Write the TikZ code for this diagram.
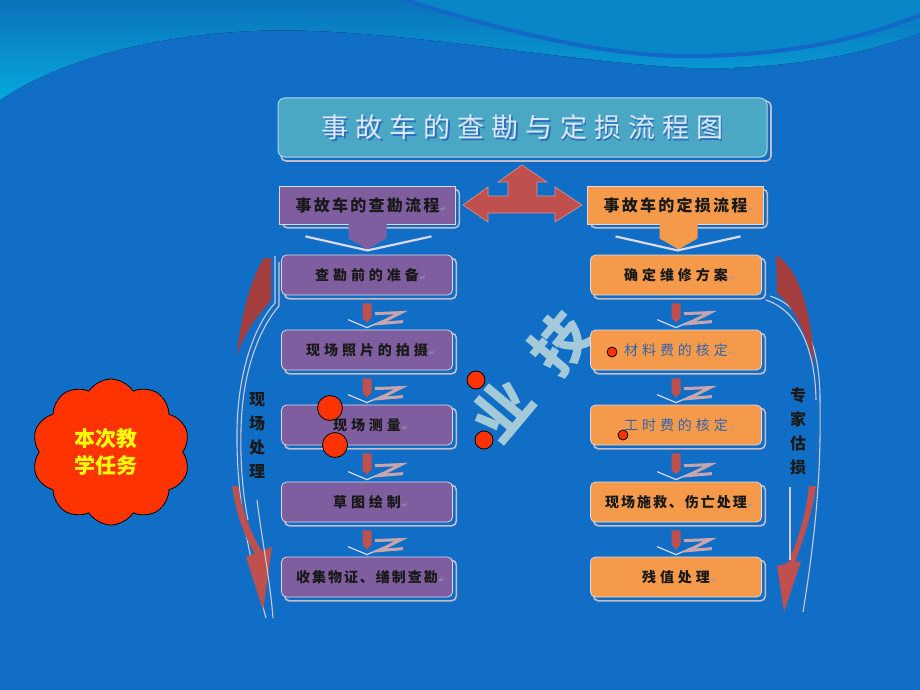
\documentclass[tikz,border=0pt]{standalone}
\usepackage{fontspec}
\setmainfont{Noto Sans CJK SC}
\newfontfamily\cjk{Noto Sans CJK SC}
\newfontfamily\cjkls{Noto Sans CJK SC}[LetterSpace=28]
\newfontfamily\cjklsn{Noto Sans CJK SC}[LetterSpace=14]
\newfontfamily\titlef{Noto Sans CJK SC}[LetterSpace=26]
\newfontfamily\djv{DejaVu Sans}
\usetikzlibrary{shapes.symbols}
\definecolor{bgblue}{HTML}{106EC6}
\definecolor{waveA}{HTML}{0B72BC}
\definecolor{waveB}{HTML}{06A8DC}
\definecolor{ribfill}{HTML}{0886C8}
\definecolor{ribline}{HTML}{1268C6}
\definecolor{titlefill}{HTML}{4AA8C4}
\definecolor{titleedge}{HTML}{A8D8E8}
\definecolor{titletext}{HTML}{DCE8F6}
\definecolor{titleshade}{HTML}{2E6EC0}
\definecolor{purplec}{HTML}{7E5E9E}
\definecolor{orangec}{HTML}{F59A4A}
\definecolor{edgec}{HTML}{DCD8E8}
\definecolor{shadowc}{HTML}{C8BCC4}
\definecolor{arrowred}{HTML}{C0504D}
\definecolor{crescred}{HTML}{A43E3E}
\definecolor{zpink}{HTML}{C8A4AC}
\definecolor{dotred}{HTML}{FF3300}
\definecolor{yellowc}{HTML}{FFFF00}
\definecolor{wmark}{HTML}{A4CADA}
\definecolor{bluetext}{HTML}{2E64B0}
\definecolor{retc}{HTML}{9A9AB0}
\definecolor{lightl}{HTML}{D0C8D4}
\pgfdeclarelayer{back}
\pgfdeclarelayer{bg}
\pgfsetlayers{back,bg,main}
\newcommand\retm{\rlap{\hspace{1pt}{\djv\fontsize{7}{7}\selectfont\color{retc}↵}}}
\tikzset{
  flowbox/.style={draw=edgec, line width=0.8pt, rounded corners=5pt, minimum width=171pt, minimum height=40pt, inner sep=0pt},
  pbox/.style={flowbox, fill=purplec},
  obox/.style={flowbox, fill=orangec},
  hbox/.style={draw=edgec, line width=0.8pt, minimum width=176pt, minimum height=38pt, inner sep=0pt},
  shadowln/.style={draw=shadowc, line width=1.6pt, rounded corners=5pt},
  btxt/.style={font=\cjkls\bfseries\fontsize{14}{14}\selectfont, text=black!90},
  bltxt/.style={font=\cjkls\fontsize{14}{14}\selectfont, text=bluetext},
  htxt/.style={font=\cjklsn\bfseries\fontsize{16}{16}\selectfont, text=black!90},
  vtxt/.style={font=\cjk\bfseries\fontsize{16}{24}\selectfont, text=black!90, align=center},
  chev/.style={draw=edgec, line width=1.2pt},
  chevw/.style={draw=edgec, line width=2.2pt},
  zline/.style={draw=zpink, line width=3pt},
  lightline/.style={draw=lightl, line width=1.1pt},
  reddot/.style={circle, fill=dotred, draw=black, line width=0.8pt, inner sep=0pt},
  wm/.style={font=\cjk\bfseries\fontsize{58}{58}\selectfont, text=wmark, rotate=50}
}
\newcommand\flowarrow[2]{%
  \fill[arrowred] ([xshift=-4.5pt,yshift=-8pt]#1.south) -- ([xshift=4.5pt,yshift=-8pt]#1.south)
     -- ([xshift=4.5pt,yshift=12pt]#2.north) -- ([yshift=7pt]#2.north) -- ([xshift=-4.5pt,yshift=12pt]#2.north) -- cycle;
  \draw[chev] ([xshift=-19pt,yshift=10pt]#2.north) -- ([yshift=2pt]#2.north) -- ([xshift=16pt,yshift=9pt]#2.north);
  \draw[zline] ([xshift=8pt,yshift=16pt]#2.north) -- ([xshift=34pt,yshift=17pt]#2.north)
     -- ([xshift=12pt,yshift=6pt]#2.north) -- ([xshift=36pt,yshift=8pt]#2.north);
}
\begin{document}
\begin{tikzpicture}[x=1pt,y=-1pt]
\useasboundingbox (0,0) rectangle (920,690);
\begin{pgfonlayer}{back}
  \fill[bgblue] (0,0) rectangle (920,690);
  \fill[top color=waveA, bottom color=waveB] (0,0) -- (920,0) -- (920,33)
     .. controls (850,60) and (760,70) .. (692,68)
     .. controls (560,62) and (380,25) .. (252,31)
     .. controls (150,36) and (60,60) .. (0,100) -- cycle;
  \fill[ribfill] (405,0) .. controls (500,30) and (600,55) .. (680,56)
     .. controls (780,57) and (860,40) .. (920,15) -- (920,0) -- cycle;
  \draw[ribline, line width=4pt] (405,0) .. controls (500,30) and (600,55) .. (680,56)
     .. controls (780,57) and (860,40) .. (920,15);
  % watermark
  \node[wm] (w2) at (502,410) {业};
  \node[wm] (w3) at (560,343) {技};
\end{pgfonlayer}

% title
\node[draw=titleedge, line width=1pt, fill=titlefill, rounded corners=7pt, minimum width=489pt, minimum height=59pt, inner sep=0pt] (t) at (522.5,127.5) {};
\node[font=\titlef\fontsize{27}{27}\selectfont, text=titleshade] at ([xshift=1.3pt,yshift=-1.3pt]t.center) {事故车的查勘与定损流程图};
\node[font=\titlef\fontsize{27}{27}\selectfont, text=titletext] (tt) at (t.center) {事故车的查勘与定损流程图\retm};

% headers
\node[hbox, fill=purplec] (h1) at (367.5,205) {};
\node[htxt] at (h1.center) {事故车的查勘流程\retm};
\node[hbox, fill=orangec] (h2) at (675.5,205) {};
\node[htxt] at (h2.center) {事故车的定损流程\retm};

\fill[purplec] ([xshift=-19pt,yshift=1pt]h1.south) -- ([xshift=19pt,yshift=1pt]h1.south) -- ([xshift=19pt,yshift=-14pt]h1.south)
   -- ([yshift=-25pt]h1.south) -- ([xshift=-19pt,yshift=-14pt]h1.south) -- cycle;
\draw[chevw] ([xshift=-62pt,yshift=-12pt]h1.south) -- ([yshift=-26pt]h1.south) -- ([xshift=64pt,yshift=-12pt]h1.south);
\fill[orangec] ([xshift=-16pt,yshift=1pt]h2.south) -- ([xshift=22pt,yshift=1pt]h2.south) -- ([xshift=22pt,yshift=-14pt]h2.south)
   -- ([xshift=3pt,yshift=-25pt]h2.south) -- ([xshift=-16pt,yshift=-14pt]h2.south) -- cycle;
\draw[chevw] ([xshift=-60pt,yshift=-12pt]h2.south) -- ([xshift=2pt,yshift=-26pt]h2.south) -- ([xshift=65pt,yshift=-12pt]h2.south);

% three-way arrow
\fill[arrowred, draw=arrowred!60!white, line width=0.6pt] (522,165) -- (547,182) -- (537,182) -- (537,196) -- (555,196) -- (555,187)
   -- (582,205) -- (555,222) -- (555,213) -- (488,213) -- (488,222) -- (463,205) -- (488,187) -- (488,196)
   -- (508,196) -- (508,182) -- (498,182) -- cycle;

% left column
\node[pbox] (l1) at (367,275) {};
\node[btxt] at (l1.center) {查勘前的准备\retm};
\node[pbox] (l2) at (367,350) {};
\node[btxt] at (l2.center) {现场照片的拍摄\retm};
\node[pbox] (l3) at (367,425) {};
\node[btxt] at (l3.center) {现场测量\retm};
\node[pbox] (l4) at (367,502) {};
\node[btxt] at (l4.center) {草图绘制\retm};
\node[pbox] (l5) at (367,577) {};
\node[btxt, font=\cjklsn\bfseries\fontsize{14}{14}\selectfont] at (l5.center) {收集物证、缮制查勘\retm};

% right column
\node[obox] (r1) at (676,275) {};
\node[btxt] at (r1.center) {确定维修方案\retm};
\node[obox] (r2) at (676,350) {};
\node[bltxt] at (r2.center) {材料费的核定\retm};
\node[obox] (r3) at (676,425) {};
\node[bltxt] at (r3.center) {工时费的核定\retm};
\node[obox] (r4) at (676,502) {};
\node[btxt, font=\cjklsn\bfseries\fontsize{14}{14}\selectfont] at (r4.center) {现场施救、伤亡处理\retm};
\node[obox] (r5) at (676,577) {};
\node[btxt] at (r5.center) {残值处理\retm};

\begin{pgfonlayer}{bg}
  \foreach \n in {t,h1,h2,l1,l2,l3,l4,l5,r1,r2,r3,r4,r5}{
    \draw[shadowln] ([xshift=3.5pt,yshift=-3.5pt]\n.south west) rectangle ([xshift=3.5pt,yshift=-3.5pt]\n.north east);
  }
\end{pgfonlayer}

\flowarrow{l1}{l2}
\flowarrow{l2}{l3}
\flowarrow{l3}{l4}
\flowarrow{l4}{l5}
\flowarrow{r1}{r2}
\flowarrow{r2}{r3}
\flowarrow{r3}{r4}
\flowarrow{r4}{r5}

% left curved arrows
\draw[lightline] (275,256) -- (275,303) .. controls (255,325) and (238,370) .. (237,430) .. controls (236,500) and (250,560) .. (266,618);
\draw[lightline] (279,262) -- (279,306) .. controls (259,329) and (242,372) .. (241,430) .. controls (240,470) and (244,500) .. (248,520);
\fill[crescred] (264,258) .. controls (250,280) and (240,320) .. (237,356) .. controls (245,328) and (262,312) .. (271,300) -- (271,258) -- cycle;
\fill[arrowred] (232,486) .. controls (236,515) and (246,540) .. (255,553.5) -- (246,557) -- (263,610) -- (272,547) -- (261.6,551)
   .. controls (252,535) and (242,512) .. (238,486) -- cycle;
\draw[lightline] (257,500) .. controls (262,540) and (270,580) .. (273,618);
\node[vtxt] (vl) at (257,436) {现\\场\\处\\理};

% right curved arrows
\draw[lightline] (770,296) .. controls (800,305) and (820,340) .. (820,400) .. controls (821,460) and (818,520) .. (803,612);
\draw[lightline] (766,300) .. controls (796,310) and (815,345) .. (816,400);
\fill[crescred] (776,255) .. controls (798,268) and (812,310) .. (814,366) .. controls (806,330) and (792,305) .. (777,293) -- cycle;
\fill[arrowred] (809,486) .. controls (806,515) and (798,540) .. (788,563) -- (777,566) -- (784,612) -- (801,561) -- (795,562)
   .. controls (803,540) and (812,515) .. (816,486) -- cycle;
\draw[lightline] (790,487) -- (790,560);
\node[vtxt] (vr) at (798,431) {专\\家\\估\\损};

% cloud
\node[cloud, cloud puffs=10, cloud puff arc=115, aspect=1.08, draw=black, line width=0.8pt, fill=dotred,
      minimum width=158pt, minimum height=146pt, inner sep=0pt] (cl) at (111,452) {};
\node[font=\cjk\bfseries\fontsize{21}{27}\selectfont, text=yellowc, align=center] (clt) at ([xshift=-5pt]cl.center) {本次教\\学任务};

% red dots
\node[reddot, minimum size=18pt] (d1) at (476,380) {};
\node[reddot, minimum size=25pt] (d2) at (330,408) {};
\node[reddot, minimum size=25pt] (d3) at (335,445) {};
\node[reddot, minimum size=18pt] (d4) at (484,440) {};
\node[reddot, minimum size=10pt] (d5) at (612,352) {};
\node[reddot, minimum size=10pt] (d6) at (623,435) {};
\end{tikzpicture}
\end{document}
